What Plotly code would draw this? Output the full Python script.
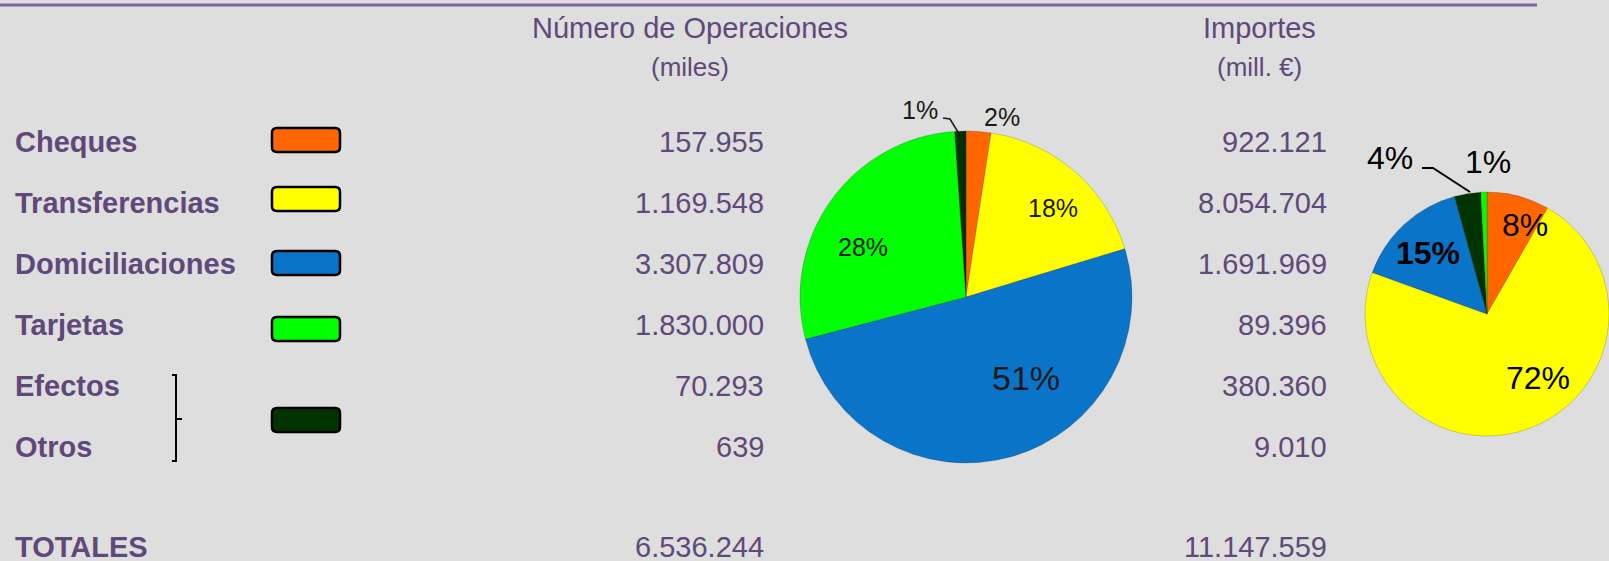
import plotly.graph_objects as go

# ---------------- data ----------------
categories = ["Cheques", "Transferencias", "Domiciliaciones", "Tarjetas", "Efectos", "Otros"]
operaciones_miles = [157955, 1169548, 3307809, 1830000, 70293, 639]
importes_mill_eur = [922121, 8054704, 1691969, 89396, 380360, 9010]
total_label = "TOTALES"
total_operaciones = 6536244
total_importes = 11147559
header_ops = ["Número de Operaciones", "(miles)"]
header_imp = ["Importes", "(mill. €)"]

pie_groups = ["Cheques", "Transferencias", "Domiciliaciones", "Tarjetas", "Efectos y Otros"]
# slice order (clockwise from 12 o'clock) as seen in each pie
pie_ops_order = ["Cheques", "Transferencias", "Domiciliaciones", "Tarjetas", "Efectos y Otros"]
pie_imp_order = ["Cheques", "Transferencias", "Domiciliaciones", "Efectos y Otros", "Tarjetas"]
# percentage labels printed on the pies (as shown in the picture)
ops_pct_labels = {"Cheques": "2%", "Transferencias": "18%", "Domiciliaciones": "51%",
                  "Tarjetas": "28%", "Efectos y Otros": "1%"}
imp_pct_labels = {"Cheques": "8%", "Transferencias": "72%", "Domiciliaciones": "15%",
                  "Tarjetas": "1%", "Efectos y Otros": "4%"}

# ---------------- styles / layout ----------------
W, H = 1609, 561
BG = "#DEDEDE"
PURPLE = "#5F497A"
RULE = "#8064A2"
FONT = "Arial, 'Liberation Sans', sans-serif"
group_colors = {
    "Cheques": "#FF6600",
    "Transferencias": "#FFFF00",
    "Domiciliaciones": "#0A74C8",
    "Tarjetas": "#00FF00",
    "Efectos y Otros": "#003300",
}


def fmt(v):
    return f"{v:,}".replace(",", ".")


def grouped(vals):
    d = dict(zip(categories, vals))
    return {
        "Cheques": d["Cheques"],
        "Transferencias": d["Transferencias"],
        "Domiciliaciones": d["Domiciliaciones"],
        "Tarjetas": d["Tarjetas"],
        "Efectos y Otros": d["Efectos"] + d["Otros"],
    }


g_ops = grouped(operaciones_miles)
g_imp = grouped(importes_mill_eur)

row_y = [142, 203, 264, 325, 386, 447]
total_y = 547
label_x = 13
ops_right_x = 766
imp_right_x = 1329
ops_center_x = 690
imp_center_x = 1259

fig = go.Figure()
# invisible trace creating a pixel-based cartesian frame
fig.add_trace(go.Scatter(x=[], y=[], hoverinfo="skip", showlegend=False))


def pie_domain(cx, cy, r):
    return dict(x=[(cx - r) / W, (cx + r) / W], y=[1 - (cy + r) / H, 1 - (cy - r) / H])


for order, g, dom in ((pie_ops_order, g_ops, pie_domain(966, 297, 166)),
                      (pie_imp_order, g_imp, pie_domain(1487, 314, 122))):
    fig.add_trace(go.Pie(
        labels=order, values=[g[k] for k in order], sort=False,
        direction="clockwise", rotation=0,
        marker=dict(colors=[group_colors[k] for k in order],
                    line=dict(color="rgba(0,0,0,0.22)", width=0.8)),
        textinfo="none", domain=dom, hoverinfo="skip", showlegend=False,
    ))

ann = []
# headers
for cx, (t1, t2) in ((ops_center_x, header_ops), (imp_center_x, header_imp)):
    ann.append(dict(x=cx, y=28, text=t1, font=dict(family=FONT, size=29, color=PURPLE)))
    ann.append(dict(x=cx, y=67, text=t2, font=dict(family=FONT, size=26, color=PURPLE)))

# rows
for i, cat in enumerate(categories):
    y = row_y[i]
    ann.append(dict(x=label_x, y=y, text=f"<b>{cat}</b>", xanchor="left",
                    font=dict(family=FONT, size=29, color=PURPLE)))
    ann.append(dict(x=ops_right_x, y=y, text=fmt(operaciones_miles[i]), xanchor="right",
                    font=dict(family=FONT, size=29, color=PURPLE)))
    ann.append(dict(x=imp_right_x, y=y, text=fmt(importes_mill_eur[i]), xanchor="right",
                    font=dict(family=FONT, size=29, color=PURPLE)))
ann.append(dict(x=label_x, y=total_y, text=f"<b>{total_label}</b>", xanchor="left",
                font=dict(family=FONT, size=29, color=PURPLE)))
ann.append(dict(x=ops_right_x, y=total_y, text=fmt(total_operaciones), xanchor="right",
                font=dict(family=FONT, size=29, color=PURPLE)))
ann.append(dict(x=imp_right_x, y=total_y, text=fmt(total_importes), xanchor="right",
                font=dict(family=FONT, size=29, color=PURPLE)))

# pie percentage labels
ops_label_pos = {"Efectos y Otros": (920, 110), "Cheques": (1002, 117),
                 "Transferencias": (1053, 208), "Tarjetas": (863, 247),
                 "Domiciliaciones": (1026, 378)}
imp_label_pos = {"Efectos y Otros": (1390, 158), "Tarjetas": (1488, 162),
                 "Cheques": (1525, 225), "Domiciliaciones": (1428, 253),
                 "Transferencias": (1538, 378)}
for k, t in ops_pct_labels.items():
    x, y = ops_label_pos[k]
    size = 34 if k == "Domiciliaciones" else 25
    ann.append(dict(x=x, y=y, text=t, font=dict(family=FONT, size=size, color="#1a1a1a")))
for k, t in imp_pct_labels.items():
    x, y = imp_label_pos[k]
    txt = f"<b>{t}</b>" if k == "Domiciliaciones" else t
    ann.append(dict(x=x, y=y, text=txt, font=dict(family=FONT, size=32, color="#000000")))

for a in ann:
    a.update(xref="x", yref="y", showarrow=False)
    a.setdefault("xanchor", "center")
    a.setdefault("yanchor", "middle")


def rounded_rect(x0, y0, x1, y1, r):
    return (f"M{x0+r},{y0} L{x1-r},{y0} Q{x1},{y0} {x1},{y0+r} L{x1},{y1-r} "
            f"Q{x1},{y1} {x1-r},{y1} L{x0+r},{y1} Q{x0},{y1} {x0},{y1-r} "
            f"L{x0},{y0+r} Q{x0},{y0} {x0+r},{y0} Z")


shapes = []
# top rule
shapes.append(dict(type="line", x0=0, x1=1537, y0=5, y1=5, line=dict(color=RULE, width=3)))
# legend swatches
swatch_y = {"Cheques": 140, "Transferencias": 199, "Domiciliaciones": 263,
            "Tarjetas": 329, "Efectos y Otros": 420}
for k in pie_groups:
    cy = swatch_y[k]
    shapes.append(dict(type="path", path=rounded_rect(272, cy - 12, 340, cy + 12, 5),
                       fillcolor=group_colors[k], line=dict(color="#000000", width=2.5)))
# bracket grouping Efectos + Otros
shapes.append(dict(type="path", path="M172,375 L176,375 L176,461 L172,461 M176,419 L182,419",
                   line=dict(color="#000000", width=2)))
# leader lines for small slices
shapes.append(dict(type="path", path="M943,118 L950,119 L961,137",
                   line=dict(color="#1a1a1a", width=1.5)))
shapes.append(dict(type="path", path="M1422,168 L1433,168 L1470,192",
                   line=dict(color="#000000", width=2)))
for s in shapes:
    s.update(xref="x", yref="y")

fig.update_layout(
    width=W, height=H,
    margin=dict(l=0, r=0, t=0, b=0),
    paper_bgcolor=BG, plot_bgcolor=BG,
    xaxis=dict(range=[0, W], visible=False, fixedrange=True, domain=[0, 1]),
    yaxis=dict(range=[H, 0], visible=False, fixedrange=True, domain=[0, 1]),
    annotations=ann, shapes=shapes, showlegend=False,
)

fig.write_html(
    "out.html",
    config={"displayModeBar": False, "staticPlot": True},
    post_script=("document.body.style.margin='0';document.body.style.padding='0';"
                 "document.documentElement.style.overflow='hidden';"
                 "document.body.style.background='" + BG + "';"),
)
